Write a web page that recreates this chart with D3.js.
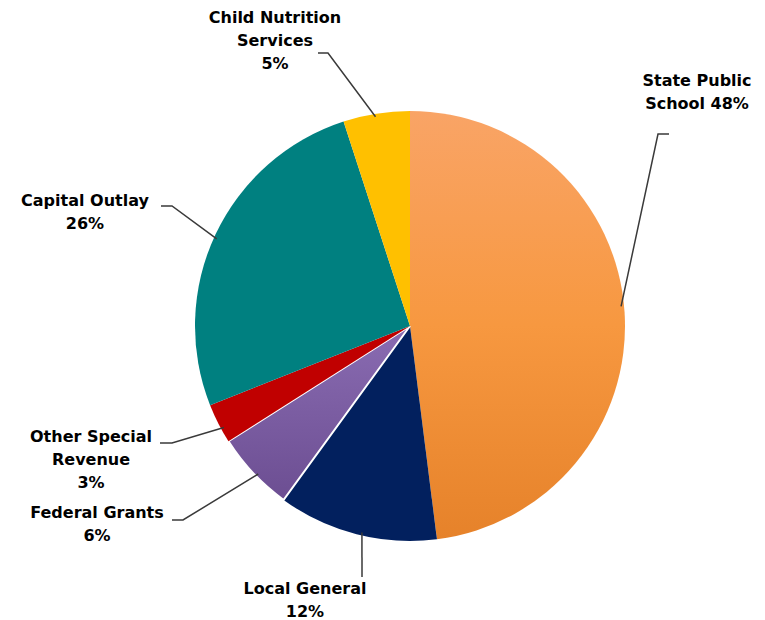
<!DOCTYPE html>
<html>
<head>
<meta charset="utf-8">
<script src="https://cdn.jsdelivr.net/npm/d3@7"></script>
<style>
  body { margin: 0; background: #fff; }
  text { font-family: "DejaVu Sans", Verdana, sans-serif; font-weight: bold; font-size: 16px; fill: #000; }
</style>
</head>
<body>
<svg id="chart" width="765" height="620"></svg>
<script>
// Data
var categories = ["State Public School", "Local General", "Federal Grants", "Other Special Revenue", "Capital Outlay", "Child Nutrition Services"];
var values = [48, 12, 6, 3, 26, 5];
var labelLines = [
    ["State Public", "School 48%"],
    ["Local General", "12%"],
    ["Federal Grants", "6%"],
    ["Other Special", "Revenue", "3%"],
    ["Capital Outlay", "26%"],
    ["Child Nutrition", "Services", "5%"]
];
var colors = ["url(#gradOrange)", "#02205E", "url(#gradPurple)", "#C00000", "#008080", "#FFC000"];

// Layout for labels: where on the slice the leader starts (fraction of its angle),
// elbow point, end of short horizontal, text centre, first baseline
var labelLayout = [
    { frac: 0.49, elbow: [658, 134], end: [669, 134], tx: 697, ty: 86 },
    { frac: 0.47, elbow: [362, 577], end: [362, 577], tx: 305, ty: 594 },
    { frac: 0.45, elbow: [183, 520], end: [172, 520], tx: 97, ty: 518 },
    { frac: 0.35, elbow: [172, 443], end: [160, 443], tx: 91, ty: 442 },
    { frac: 0.49, elbow: [172, 206], end: [161, 206], tx: 85, ty: 206 },
    { frac: 0.48, elbow: [328, 53], end: [318, 53], tx: 275, ty: 23 }
];

var cx = 410, cy = 326, radius = 215;
var svg = d3.select("#chart");

// Gradients
var defs = svg.append("defs");
var g1 = defs.append("linearGradient").attr("id", "gradOrange")
    .attr("x1", 0).attr("y1", 0).attr("x2", 0).attr("y2", 1);
g1.append("stop").attr("offset", "0%").attr("stop-color", "#F9A466");
g1.append("stop").attr("offset", "50%").attr("stop-color", "#F79840");
g1.append("stop").attr("offset", "100%").attr("stop-color", "#E6822A");
var g2 = defs.append("linearGradient").attr("id", "gradPurple")
    .attr("x1", 0).attr("y1", 0).attr("x2", 0).attr("y2", 1);
g2.append("stop").attr("offset", "0%").attr("stop-color", "#8A6CB2");
g2.append("stop").attr("offset", "100%").attr("stop-color", "#6C4E92");

var pie = d3.pie().sort(null).value(d => d);
var arcs = pie(values);
var arc = d3.arc().innerRadius(0).outerRadius(radius);

var g = svg.append("g").attr("transform", "translate(" + cx + "," + cy + ")");

g.selectAll("path.slice")
    .data(arcs)
    .enter()
    .append("path")
    .attr("class", "slice")
    .attr("d", arc)
    .attr("fill", (d, i) => colors[i])
    .attr("stroke", (d, i) => i === 2 ? "#fff" : "none")
    .attr("stroke-width", 2);

// Leader lines
arcs.forEach(function (d, i) {
    var L = labelLayout[i];
    var a = d.startAngle + (d.endAngle - d.startAngle) * L.frac;
    var r = radius - 3;
    var sx = cx + Math.sin(a) * r;
    var sy = cy - Math.cos(a) * r;
    svg.append("polyline")
        .attr("points", [[sx, sy], L.elbow, L.end].map(p => p.join(",")).join(" "))
        .attr("fill", "none")
        .attr("stroke", "#3a3a3a")
        .attr("stroke-width", 1.5);
});

// Labels
labelLines.forEach(function (lines, i) {
    var L = labelLayout[i];
    var t = svg.append("text").attr("text-anchor", "middle");
    lines.forEach(function (s, j) {
        t.append("tspan").attr("x", L.tx).attr("y", L.ty + j * 23).text(s);
    });
});
</script>
</body>
</html>
